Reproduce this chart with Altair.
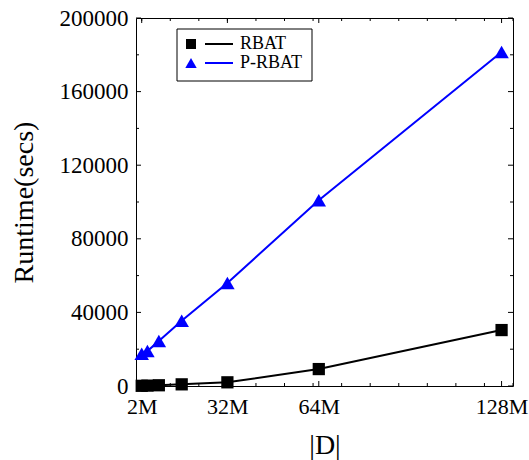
import altair as alt
import pandas as pd

# Dataset size |D| in millions of records
sizes_m = [2, 4, 8, 16, 32, 64, 128]
# Runtime in seconds for each algorithm
rbat = [100, 200, 400, 900, 2000, 9200, 30400]
p_rbat = [17500, 19000, 24500, 35500, 56000, 101000, 181500]

series = ["RBAT", "P-RBAT"]
colors = ["#000000", "#0000ff"]
shapes = ["square", "triangle-up"]

x_major = [2, 32, 64, 128]
x_minor = [2, 12, 22, 32, 42, 52, 62, 72, 82, 92, 102, 112, 122, 132]
y_major = [0, 40000, 80000, 120000, 160000, 200000]
y_minor = [20000, 60000, 100000, 140000, 180000]

W, H = 377, 368
FONT = "Liberation Serif"

df = pd.DataFrame(
    {
        "size": sizes_m * 2,
        "runtime": rbat + p_rbat,
        "series": [series[0]] * len(sizes_m) + [series[1]] * len(sizes_m),
    }
)

xs = alt.Scale(domain=[0, 132], nice=False, zero=False)
ys = alt.Scale(domain=[0, 200000], nice=False)
cs = alt.Scale(domain=series, range=colors)
ss = alt.Scale(domain=series, range=shapes)

x_axis = alt.Axis(
    title="|D|",
    values=x_major,
    labelExpr="datum.value + 'M'",
    ticks=False,
    domain=False,
    grid=False,
    labelFont=FONT,
    labelFontSize=22,
    labelColor="black",
    labelPadding=10,
    titleFont=FONT,
    titleFontSize=28,
    titleFontWeight="normal",
    titleColor="black",
    titlePadding=14,
)
y_axis = alt.Axis(
    title="Runtime(secs)",
    values=y_major,
    format="d",
    ticks=False,
    domain=False,
    grid=False,
    labelFont=FONT,
    labelFontSize=23,
    labelColor="black",
    labelPadding=8,
    titleFont=FONT,
    titleFontSize=28,
    titleFontWeight="normal",
    titleColor="black",
    titlePadding=21,
)

x_enc = alt.X("size:Q", scale=xs, axis=x_axis)
y_enc = alt.Y("runtime:Q", scale=ys, axis=y_axis)

lines = alt.Chart(df).mark_line(strokeWidth=2).encode(
    x=x_enc,
    y=y_enc,
    color=alt.Color("series:N", scale=cs, legend=None),
)

points = alt.Chart(df).mark_point(filled=True, opacity=1).encode(
    x=x_enc,
    y=y_enc,
    color=alt.Color("series:N", scale=cs, legend=None),
    shape=alt.Shape("series:N", scale=ss, legend=None),
    size=alt.condition(alt.datum.series == "RBAT", alt.value(150), alt.value(210)),
)


# Inward tick marks on all four sides
def xticks(vals, length):
    d = pd.DataFrame({"size": vals})
    bottom = alt.Chart(d).mark_rule(color="black", strokeWidth=1).encode(
        x=x_enc, y=alt.value(H), y2=alt.value(H - length)
    )
    top = alt.Chart(d).mark_rule(color="black", strokeWidth=1).encode(
        x=x_enc, y=alt.value(0), y2=alt.value(length)
    )
    return [bottom, top]


def yticks(vals, length):
    d = pd.DataFrame({"runtime": vals})
    left = alt.Chart(d).mark_rule(color="black", strokeWidth=1).encode(
        y=y_enc, x=alt.value(0), x2=alt.value(length)
    )
    right = alt.Chart(d).mark_rule(color="black", strokeWidth=1).encode(
        y=y_enc, x=alt.value(W), x2=alt.value(W - length)
    )
    return [left, right]


ticks = xticks(x_major, 5) + xticks(x_minor, 3) + yticks(y_major, 5) + yticks(y_minor, 3)

# Boxed legend in the upper left of the plot
leg_df = pd.DataFrame({"series": series})
legend_layers = [
    alt.Chart(pd.DataFrame({"a": [0]})).mark_rect(
        fill="white", stroke="black", strokeWidth=1
    ).encode(x=alt.value(41), x2=alt.value(176), y=alt.value(11), y2=alt.value(63))
]
for i, name in enumerate(series):
    row_y = 26 + 19 * i
    sub = alt.Chart(leg_df).transform_filter(alt.datum.series == name)
    legend_layers.append(
        sub.mark_point(
            filled=True, opacity=1, shape=shapes[i], size=100 if i == 0 else 130, color=colors[i]
        ).encode(x=alt.value(55), y=alt.value(row_y))
    )
    legend_layers.append(
        sub.mark_rule(color=colors[i], strokeWidth=2).encode(
            x=alt.value(69), x2=alt.value(97), y=alt.value(row_y)
        )
    )
    legend_layers.append(
        sub.mark_text(align="left", baseline="middle", font=FONT, fontSize=18, color="black").encode(
            x=alt.value(104), y=alt.value(row_y), text="series:N"
        )
    )

chart = (
    alt.layer(lines, points, *ticks, *legend_layers)
    .properties(
        width=W,
        height=H,
        autosize=alt.AutoSizeParams(type="none"),
        padding={"left": 136, "top": 18, "right": 16, "bottom": 74},
        background="white",
    )
    .configure_view(stroke="black", strokeWidth=1)
)

chart.save("out.html", embed_options={"renderer": "svg", "actions": False})
